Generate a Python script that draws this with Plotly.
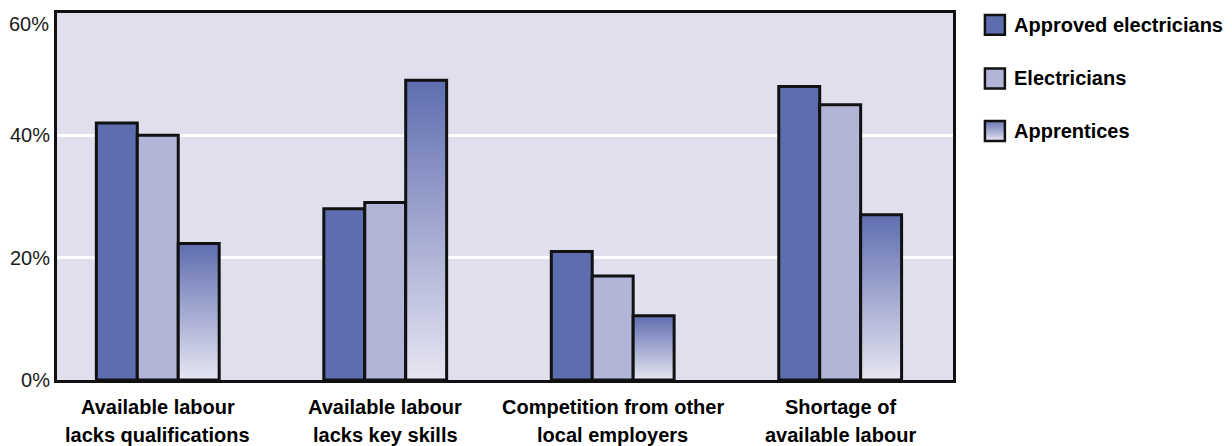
import numpy as np
import plotly.graph_objects as go

# ---- data -------------------------------------------------------------
categories_line1 = ["Available labour", "Available labour", "Competition from other", "Shortage of"]
categories_line2 = ["lacks qualifications", "lacks key skills", "local employers", "available labour"]
series_names = ["Approved electricians", "Electricians", "Apprentices"]
approved_electricians = [42, 28, 21, 48]
electricians = [40, 29, 17, 45]
apprentices = [22.3, 49, 10.5, 27]
y_ticks = [0, 20, 40, 60]
y_tick_labels = ["0%", "20%", "40%", "60%"]

# ---- styling ----------------------------------------------------------
W, H = 1232, 446
L, R, T, B = 55, 953, 10, 380          # plot area in pixels
FONT = "Liberation Sans"
OUTLINE = "#111111"
BG = "#e0dfee"
C_APPROVED = "#5e6db0"
C_ELEC = "#b3b5d8"
C_APPR_TOP = "#5f6db0"
C_APPR_BOTTOM = "#e7e6f2"
BAR_W = 0.18


def px_x(px):
    return (px - L) / (R - L)


def px_y(py):
    return (B - py) / (B - T)


idx = np.arange(len(categories_line1))
fig = go.Figure()

fig.add_trace(go.Bar(
    x=idx - BAR_W, y=approved_electricians, width=BAR_W, name=series_names[0],
    marker=dict(color=C_APPROVED, line=dict(color=OUTLINE, width=3)),
    showlegend=False, hoverinfo="y"))
fig.add_trace(go.Bar(
    x=idx, y=electricians, width=BAR_W, name=series_names[1],
    marker=dict(color=C_ELEC, line=dict(color=OUTLINE, width=3)),
    showlegend=False, hoverinfo="y"))

# apprentices: gradient-filled columns, one closed polygon per category
for i, v in zip(idx, apprentices):
    x0, x1 = i + BAR_W / 2, i + 1.5 * BAR_W
    fig.add_trace(go.Scatter(
        x=[x0, x0, x1, x1, x0], y=[0, v, v, 0, 0],
        mode="lines", fill="toself",
        fillgradient=dict(type="vertical",
                          colorscale=[[0, C_APPR_BOTTOM], [1, C_APPR_TOP]]),
        line=dict(color=OUTLINE, width=3),
        name=series_names[2], showlegend=False, hoverinfo="skip"))

# ---- category labels (two lines under each group) -------------------
annotations = []
for i, (a, b) in enumerate(zip(categories_line1, categories_line2)):
    for text, py in ((a, 407), (b, 435)):
        annotations.append(dict(
            x=i, xref="x", y=px_y(py), yref="paper", text=text,
            showarrow=False, xanchor="center", yanchor="middle",
            font=dict(family=FONT, size=20, color="#000000", weight="bold")))

# top tick label sits just below the frame
annotations.append(dict(
    x=0, xref="paper", xanchor="right", xshift=-6, y=px_y(21), yref="paper",
    yanchor="middle", text=y_tick_labels[-1], showarrow=False,
    font=dict(family=FONT, size=20, color="#1a1a1a")))

# ---- legend drawn as swatches + labels -------------------------------
shapes = []
legend_rows = [22, 76, 129]
swatch_colors = [C_APPROVED, C_ELEC, None]
for name, cy, col in zip(series_names, legend_rows, swatch_colors):
    x0, x1 = 985, 1005
    y0, y1 = cy - 10, cy + 10
    if col is None:
        # vertical gradient swatch built from thin strips
        n = 20
        top = np.array([int(C_APPR_TOP[k:k + 2], 16) for k in (1, 3, 5)])
        bot = np.array([int(C_APPR_BOTTOM[k:k + 2], 16) for k in (1, 3, 5)])
        for s in range(n):
            t = s / (n - 1)
            c = (bot + (top - bot) * t).round().astype(int)
            sy0 = y1 - (y1 - y0) * s / n
            sy1 = y1 - (y1 - y0) * (s + 1) / n
            shapes.append(dict(
                type="rect", xref="paper", yref="paper",
                x0=px_x(x0), x1=px_x(x1), y0=px_y(sy0), y1=px_y(sy1),
                fillcolor=f"rgb({c[0]},{c[1]},{c[2]})", line=dict(width=0)))
        shapes.append(dict(
            type="rect", xref="paper", yref="paper",
            x0=px_x(x0), x1=px_x(x1), y0=px_y(y0), y1=px_y(y1),
            fillcolor="rgba(0,0,0,0)", line=dict(color=OUTLINE, width=2.5)))
    else:
        shapes.append(dict(
            type="rect", xref="paper", yref="paper",
            x0=px_x(x0), x1=px_x(x1), y0=px_y(y0), y1=px_y(y1),
            fillcolor=col, line=dict(color=OUTLINE, width=2.5)))
    annotations.append(dict(
        x=px_x(1012), xref="paper", xanchor="left", y=px_y(cy), yref="paper",
        yanchor="middle", text=name, showarrow=False,
        font=dict(family=FONT, size=20, color="#000000", weight="bold")))

fig.update_layout(
    width=W, height=H,
    margin=dict(l=L, r=W - R, t=T, b=H - B, pad=0),
    paper_bgcolor="white", plot_bgcolor=BG,
    barmode="overlay", showlegend=False,
    shapes=shapes, annotations=annotations,
    font=dict(family=FONT),
    xaxis=dict(range=[-0.443, 3.496], showticklabels=False, showgrid=False,
               zeroline=False, ticks="", showline=True, mirror=True,
               linecolor=OUTLINE, linewidth=3, fixedrange=True),
    yaxis=dict(range=[0, 60], tickvals=y_ticks[:-1], ticktext=y_tick_labels[:-1],
               showgrid=True, gridcolor="white", gridwidth=3, zeroline=False,
               ticks="", showline=True, mirror=True, linecolor=OUTLINE,
               linewidth=3, tickfont=dict(family=FONT, size=20, color="#1a1a1a"),
               fixedrange=True),
)

fig.write_html("out.html")
